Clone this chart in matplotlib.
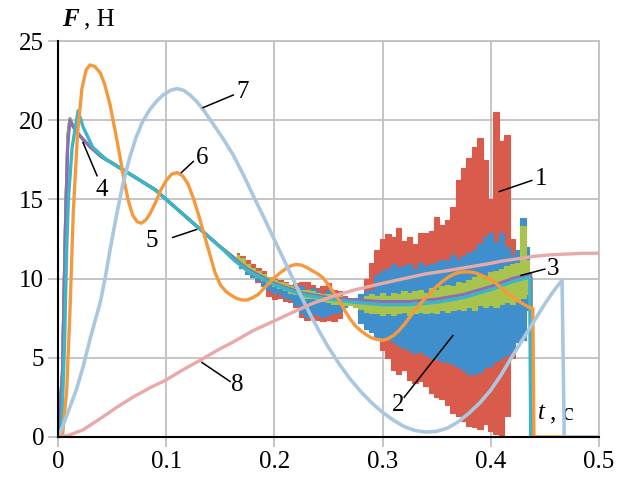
import numpy as np
import matplotlib.pyplot as plt

plt.rcParams['font.family'] = ['Liberation Serif', 'DejaVu Serif']

# common start of curves 1-3 (before the noise sets in)
t_start = [0, 0.004, 0.007, 0.009, 0.011, 0.014, 0.018, 0.023, 0.03, 0.04, 0.05,
           0.057, 0.076, 0.09, 0.1, 0.1375, 0.15, 0.165]
f_start = [0, 4, 14, 19, 20.1, 19.6, 19.2, 18.8, 18.3, 17.7, 17.3,
           17.0, 16.2, 15.6, 15.0, 12.75, 12.0, 11.2]

# sample times of the noisy part, upper / lower extremes read per sample
t_noise = np.arange(0.165, 0.4351, 0.005)
red_hi = [11.6, 11.4, 11.2, 10.9, 10.7, 10.5, 10.1, 10.0, 9.9, 9.8, 9.6, 9.7, 9.8, 9.8,
          9.6, 9.4, 9.5, 9.7, 9.3, 9.2, 8.9, 8.7, 8.7, 8.8, 10.0, 11.0, 11.8, 12.5,
          12.8, 12.6, 13.2, 12.4, 12.6, 12.2, 12.9, 12.9, 13.0, 13.9, 13.4, 13.7, 14.5,
          16.2, 17.0, 17.6, 18.3, 18.9, 17.5, 15.0, 20.5, 18.7, 19.1, 12.5, 11.0, 10.5,
          10.0]
red_lo = [11.0, 10.7, 10.4, 10.1, 9.8, 9.5, 8.9, 8.7, 8.8, 8.6, 8.5, 8.2, 7.6, 7.4,
          7.5, 7.4, 7.3, 7.4, 7.3, 7.5, 8.2, 8.4, 8.4, 8.2, 7.0, 6.8, 6.5, 5.5,
          5.0, 4.2, 4.0, 4.2, 3.6, 3.4, 3.5, 3.2, 2.8, 2.5, 2.4, 2.0, 1.5,
          1.3, 1.0, 0.7, 0.6, 0.5, 0.8, 0.4, 0.2, 0.0, 1.3, 5.0, 6.0, 7.0,
          8.0]
blue_hi = [11.4, 11.1, 10.8, 10.6, 10.4, 10.2, 10.0, 9.9, 9.8, 9.6, 9.5, 9.3, 9.5, 9.3,
           9.4, 9.2, 9.0, 9.3, 9.0, 8.9, 8.8, 8.7, 8.8, 9.0, 9.2, 9.3, 10.2, 10.5,
           10.6, 10.9, 10.7, 10.8, 10.9, 10.6, 11.0, 10.8, 10.9, 11.0, 11.2, 11.1, 11.5,
           11.2, 11.4, 11.6, 11.8, 12.2, 12.6, 12.9, 12.3, 12.9, 12.0, 11.5, 11.8, 13.8,
           12.0]
blue_lo = [11.0, 10.7, 10.3, 10.1, 9.9, 9.6, 9.3, 9.1, 9.0, 8.8, 8.7, 8.3, 7.8, 7.6,
           7.8, 7.7, 7.6, 7.7, 7.8, 7.9, 8.2, 8.3, 8.3, 7.2, 6.8, 6.6, 6.3, 6.1,
           6.2, 6.0, 5.8, 5.6, 5.5, 5.3, 5.4, 5.2, 5.0, 4.9, 4.8, 4.7, 4.6,
           4.4, 4.2, 4.0, 4.0, 4.1, 4.4, 4.5, 4.8, 5.0, 5.2, 5.5, 6.0, 6.1,
           8.0]
green_hi = [11.5, 11.3, 10.9, 10.7, 10.5, 10.3, 10.1, 9.9, 9.8, 9.7, 9.5, 9.4, 9.3, 9.3,
            9.2, 9.1, 9.0, 9.0, 8.9, 8.9, 8.8, 8.8, 8.7, 8.7, 8.9, 9.0, 8.9, 9.1,
            8.9, 9.1, 9.0, 9.2, 9.1, 9.2, 9.3, 9.1, 9.4, 9.3, 9.5, 9.6, 9.5,
            9.8, 9.7, 9.9, 10.1, 10.2, 10.0, 10.4, 10.5, 10.6, 10.8, 10.9, 11.0, 13.3,
            11.2]
green_lo = [11.0, 10.8, 10.5, 10.3, 10.1, 9.9, 9.7, 9.5, 9.4, 9.3, 9.1, 9.0, 8.9, 8.8,
            8.8, 8.7, 8.6, 8.5, 8.4, 8.4, 8.3, 8.3, 8.2, 8.1, 7.9, 7.8, 7.8, 7.7,
            7.8, 7.7, 7.8, 7.9, 7.7, 7.8, 7.9, 7.8, 7.9, 7.8, 8.0, 7.9, 8.0,
            8.1, 8.0, 8.2, 8.0, 8.3, 8.2, 8.3, 8.2, 8.4, 8.5, 8.4, 8.6, 8.8,
            9.0]
t_drop = [0.4375, 0.438, 0.44]
f_drop = [10.0, 0, 0]

# curve 4
t4 = [0, 0.004, 0.007, 0.009, 0.011, 0.014, 0.018, 0.023, 0.03, 0.04, 0.05, 0.057,
      0.076, 0.09, 0.1, 0.1375, 0.15, 0.175, 0.2, 0.225, 0.25, 0.275, 0.3, 0.325,
      0.35, 0.375, 0.4, 0.42, 0.437, 0.438, 0.44]
f4 = [0, 4, 14, 18.5, 20.0, 19.6, 19.2, 18.8, 18.3, 17.7, 17.3, 17.0,
      16.2, 15.6, 15.0, 12.75, 12.0, 10.6, 9.7, 9.1, 8.8, 8.65, 8.55, 8.55,
      8.7, 9.0, 9.5, 10.0, 10.3, 0, 0]

# curve 5
t5 = [0, 0.003, 0.006, 0.008, 0.0095, 0.013, 0.0185, 0.023, 0.032, 0.045, 0.057,
      0.076, 0.09, 0.1, 0.1375, 0.15, 0.162, 0.175, 0.2, 0.225, 0.25, 0.275, 0.3,
      0.325, 0.35, 0.375, 0.4, 0.42, 0.436, 0.437, 0.44]
f5 = [0, 0, 6, 12, 15, 18.3, 20.6, 19.6, 18.3, 17.5, 17.0,
      16.2, 15.6, 15.0, 12.75, 12.0, 11.2, 10.5, 9.6, 9.0, 8.7, 8.5, 8.35,
      8.35, 8.5, 8.8, 9.3, 9.8, 10.1, 0, 0]

# curve 6
t6 = [0, 0.004, 0.008, 0.011, 0.014, 0.018, 0.022, 0.026, 0.0295, 0.034, 0.039, 0.043,
      0.048, 0.052, 0.057, 0.061, 0.065, 0.069, 0.073, 0.077, 0.081, 0.085, 0.09,
      0.095, 0.1, 0.105, 0.11, 0.115, 0.12, 0.125, 0.13, 0.135, 0.14, 0.145, 0.15,
      0.155, 0.16, 0.165, 0.17, 0.175, 0.18, 0.185, 0.19, 0.195, 0.2, 0.205, 0.21,
      0.215, 0.22, 0.225, 0.23, 0.235, 0.24, 0.245, 0.25, 0.255, 0.26, 0.265, 0.27,
      0.275, 0.28, 0.285, 0.29, 0.295, 0.3, 0.305, 0.31, 0.315, 0.32, 0.325, 0.33,
      0.335, 0.34, 0.345, 0.35, 0.355, 0.36, 0.365, 0.37, 0.375, 0.38, 0.385, 0.39,
      0.395, 0.4, 0.405, 0.41, 0.415, 0.42, 0.425, 0.43, 0.435, 0.439, 0.44, 0.466]
f6 = [0, 0, 3, 8, 14.1, 19.2, 22.0, 23.2, 23.5, 23.4, 23.0, 22.3,
      21.0, 19.6, 17.8, 16.2, 14.9, 14.0, 13.6, 13.5, 13.7, 14.1, 14.8,
      15.6, 16.2, 16.6, 16.7, 16.5, 16.0, 15.1, 14.0, 12.8, 11.6, 10.4, 9.6,
      9.2, 8.95, 8.75, 8.65, 8.65, 8.8, 9.0, 9.35, 9.7, 10.05, 10.35, 10.6,
      10.8, 10.9, 10.85, 10.7, 10.5, 10.3, 10.05, 9.6, 9.1, 8.6, 8.0, 7.45,
      7.0, 6.7, 6.45, 6.25, 6.15, 6.1, 6.2, 6.4, 6.7, 7.1, 7.55, 8.0,
      8.4, 8.8, 9.15, 9.5, 9.8, 10.05, 10.25, 10.38, 10.42, 10.42, 10.38, 10.25,
      10.1, 9.95, 9.7, 9.4, 9.1, 8.85, 8.6, 8.4, 8.2, 8.1, 0, 0]

# curve 7
t7 = [0, 0.005, 0.011, 0.017, 0.023, 0.03, 0.039, 0.044, 0.048, 0.054, 0.06, 0.066,
      0.072, 0.078, 0.085, 0.091, 0.097, 0.104, 0.11, 0.116, 0.122, 0.128, 0.135,
      0.143, 0.152, 0.162, 0.171, 0.18, 0.19, 0.199, 0.208, 0.217, 0.225, 0.233,
      0.242, 0.25, 0.26, 0.27, 0.28, 0.29, 0.3, 0.31, 0.32, 0.33, 0.34, 0.35,
      0.36, 0.37, 0.38, 0.39, 0.4, 0.41, 0.42, 0.43, 0.44, 0.45, 0.458, 0.466,
      0.468, 0.5]
f7 = [0, 0.8, 1.9, 3.0, 4.4, 6.3, 8.5, 10.2, 11.8, 14.0, 16.0, 17.6,
      18.9, 19.9, 20.7, 21.2, 21.6, 21.9, 22.0, 21.9, 21.6, 21.2, 20.6,
      19.8, 18.9, 17.8, 16.6, 15.3, 13.9, 12.6, 11.3, 10.0, 8.85, 7.75,
      6.6, 5.65, 4.6, 3.65, 2.85, 2.15, 1.55, 1.05, 0.65, 0.4, 0.3, 0.35,
      0.55, 0.95, 1.5, 2.15, 2.95, 3.95, 5.1, 6.2, 7.3, 8.4, 9.2, 9.9,
      0, 0]

# curve 8
t8 = [0, 0.01, 0.023, 0.04, 0.055, 0.069, 0.085, 0.1, 0.117, 0.133, 0.148, 0.162,
      0.18, 0.199, 0.218, 0.236, 0.255, 0.275, 0.3, 0.32, 0.34, 0.36, 0.377, 0.395,
      0.41, 0.425, 0.439, 0.455, 0.47, 0.485, 0.5]
f8 = [0, 0.1, 0.44, 1.2, 1.9, 2.5, 3.1, 3.6, 4.3, 4.9, 5.5, 6.0,
      6.7, 7.3, 7.9, 8.45, 8.9, 9.3, 9.7, 10.0, 10.3, 10.5, 10.7, 10.9,
      11.1, 11.25, 11.4, 11.5, 11.55, 11.6, 11.6]

x_ticks = [0, 0.1, 0.2, 0.3, 0.4, 0.5]
x_labels = ['0', '0.1', '0.2', '0.3', '0.4', '0.5']
y_ticks = [0, 5, 10, 15, 20, 25]

# label number, text position, leader line start, leader line end
labels = [('1', (0.441, 16.3), (0.408, 15.5), (0.438, 16.2)),
          ('2', (0.309, 2.0), (0.320, 2.5), (0.365, 6.4)),
          ('3', (0.452, 10.6), (0.428, 10.2), (0.450, 10.6)),
          ('4', (0.035, 15.6), (0.023, 18.6), (0.036, 16.5)),
          ('5', (0.081, 12.4), (0.106, 12.6), (0.128, 13.1)),
          ('6', (0.127, 17.6), (0.114, 16.7), (0.125, 17.4)),
          ('7', (0.165, 21.8), (0.134, 20.8), (0.162, 21.6)),
          ('8', (0.160, 3.3), (0.133, 4.7), (0.159, 3.5))]


def noisy(ax, hi, lo, color, z):
    # smooth start, then the band of oscillations, then the drop to zero
    ax.plot(t_start, f_start, color=color, lw=2.2, zorder=z)
    ax.fill_between(t_noise, lo, hi, step='mid', color=color, lw=0.8,
                    edgecolor=color, zorder=z)
    ax.plot(t_drop, f_drop, color=color, lw=2.0, zorder=z)


fig = plt.figure(figsize=(6.18, 4.79), dpi=100)
ax = fig.add_axes([0.094, 0.088, 0.875, 0.826])

grid_c = '#c0c0c0'
noisy(ax, red_hi, red_lo, '#d95b4c', 2)
noisy(ax, blue_hi, blue_lo, '#3e8fcb', 3)
noisy(ax, green_hi, green_lo, '#a8c44c', 4)
ax.plot(t4, f4, color='#8e6db5', lw=2.2, zorder=5)
ax.plot(t5, f5, color='#3bb6c9', lw=2.4, zorder=6)
ax.plot(t6, f6, color='#f59a3c', lw=2.4, zorder=7)
ax.plot(t7, f7, color='#a9c8e0', lw=2.6, zorder=8)
ax.plot(t8, f8, color='#e9a9a8', lw=2.4, zorder=8)

for name, tp, p0, p1 in labels:
    ax.plot([p0[0], p1[0]], [p0[1], p1[1]], color='black', lw=1.1, zorder=9)
    ax.text(tp[0], tp[1], name, fontsize=18, ha='left', va='center', zorder=10)

ax.set_xlim(0, 0.5)
ax.set_ylim(0, 25)
ax.set_xticks(x_ticks)
ax.set_xticklabels(x_labels)
ax.set_yticks(y_ticks)
ax.grid(True, color=grid_c, lw=1.3)
ax.set_axisbelow(True)
ax.tick_params(length=7, width=1.3, color=grid_c, labelsize=18, pad=3)
for s in ['top', 'right']:
    ax.spines[s].set_color(grid_c)
    ax.spines[s].set_linewidth(1.3)
for s in ['left', 'bottom']:
    ax.spines[s].set_color('black')
    ax.spines[s].set_linewidth(1.5)
    ax.spines[s].set_zorder(11)

ax.text(0.004, 26.4, 'F', fontsize=18, fontweight='bold', fontstyle='italic',
        ha='left', va='center', clip_on=False)
ax.text(0.024, 26.4, ', Н', fontsize=18, ha='left', va='center', clip_on=False)
ax.text(0.444, 1.5, 't', fontsize=18, fontstyle='italic', ha='left', va='center')
ax.text(0.455, 1.5, ', с', fontsize=18, ha='left', va='center')

fig.savefig('out.png', dpi=100)
